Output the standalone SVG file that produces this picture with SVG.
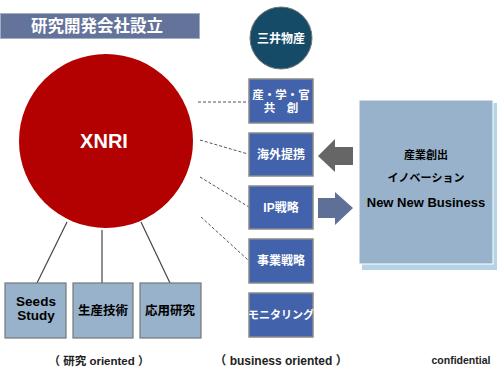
<svg xmlns="http://www.w3.org/2000/svg" width="500" height="380" viewBox="0 0 500 380">
<style>
text{font-family:"Liberation Sans","Noto Sans CJK JP",sans-serif;font-weight:bold;text-anchor:middle}
.w{fill:#fff}
.k{fill:#000}
.bb{fill:#4262ab;stroke:#8a8a8a;stroke-width:1.5}
.lb{fill:#98b2cb;stroke:#777;stroke-width:1.2}
.dl{stroke:#555;stroke-width:1;stroke-dasharray:3,2;fill:none}
.sl{stroke:#444;stroke-width:1.2;fill:none}
</style>
<rect width="500" height="380" fill="#fff"/>
<g id="title">
<rect x="0.5" y="13.5" width="199" height="25" fill="#63739a" stroke="#a3aec6" stroke-width="1"/>
<text x="97" y="32" class="w" font-size="16.5">研究開発会社設立</text>
</g>
<g id="connectors">
<line x1="198" y1="102" x2="249" y2="102" class="dl" stroke="#000"/>
<line x1="200" y1="140" x2="248" y2="154" class="dl"/>
<line x1="200" y1="177" x2="249" y2="207" class="dl"/>
<line x1="201" y1="217" x2="248" y2="260" class="dl"/>
<line x1="67" y1="222" x2="37" y2="283" class="sl"/>
<line x1="102" y1="230" x2="102" y2="283" class="sl" stroke="#000"/>
<line x1="141" y1="222" x2="170" y2="283" class="sl"/>
<polygon id="arrow-left" points="318,156 335,139 335,147 353,147 353,165 335,165 335,172" fill="#666"/>
<polygon id="arrow-right" points="318,198 335,198 335,192 353,208 335,225 335,218 318,218" fill="#5f7098"/>
</g>
<g id="xnri">
<circle cx="106" cy="141" r="87" fill="#b30000"/>
<text x="104" y="148" class="w" font-size="20">XNRI</text>
</g>
<g id="mitsui">
<circle cx="281" cy="38" r="31" fill="#164b68" stroke="#777" stroke-width="1"/>
<text x="281" y="42.5" class="w" font-size="12">三井物産</text>
</g>
<g id="sangakukan">
<rect x="249" y="79" width="64" height="44" class="bb"/>
<text x="281" y="99" class="w" font-size="11.5">産・学・官</text>
<text x="281" y="112" class="w" font-size="11.5">共　創</text>
</g>
<g id="kaigai">
<rect x="249" y="133" width="64" height="43" class="bb"/>
<text x="281" y="159" class="w" font-size="12">海外提携</text>
</g>
<g id="ip">
<rect x="249" y="186" width="64" height="43" class="bb"/>
<text x="281" y="212" class="w" font-size="12">IP戦略</text>
</g>
<g id="jigyo">
<rect x="249" y="239" width="64" height="44" class="bb"/>
<text x="281" y="265" class="w" font-size="12">事業戦略</text>
</g>
<g id="monitoring">
<rect x="249" y="293" width="64" height="44" class="bb"/>
<text x="281" y="319" class="w" font-size="11">モニタリング</text>
</g>
<g id="business">
<rect x="362" y="103" width="135" height="167" fill="#b4d4e6"/>
<rect x="359" y="100" width="134" height="164" fill="#98b2cb" stroke="#fff" stroke-width="1"/>
<text x="426" y="159" class="k" font-size="11">産業創出</text>
<text x="426" y="182" class="k" font-size="11">イノベーション</text>
<text x="426" y="207" class="k" font-size="13">New New Business</text>
</g>
<g id="seeds">
<rect x="5" y="283" width="61" height="55" class="lb"/>
<text x="36" y="306" class="k" font-size="13.5">Seeds</text>
<text x="36" y="320" class="k" font-size="13.5">Study</text>
</g>
<g id="seisan">
<rect x="73" y="283" width="60" height="55" class="lb"/>
<text x="103" y="315" class="k" font-size="12.5">生産技術</text>
</g>
<g id="oyo">
<rect x="140" y="283" width="61" height="55" class="lb"/>
<text x="170" y="315" class="k" font-size="12.5">応用研究</text>
</g>
<g id="labels">
<text x="99" y="365" font-size="11.5" fill="#222">（ 研究 oriented ）</text>
<text x="281" y="365" font-size="12" fill="#222">（ business oriented ）</text>
<text x="461" y="364" font-size="10.5" fill="#222">confidential</text>
</g>
</svg>
